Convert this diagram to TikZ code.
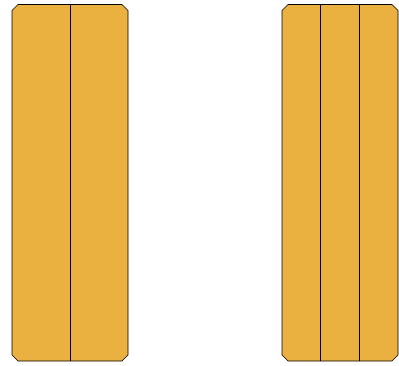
\documentclass[tikz,border=0pt]{standalone}
\definecolor{boxfill}{RGB}{234,176,64}
\begin{document}
\begin{tikzpicture}[x=1pt,y=-1pt,
  panel/.style={fill=boxfill,draw=black,line width=0.6pt,line join=miter},
  divider/.style={draw=black,line width=0.6pt}]
\useasboundingbox (0,0) rectangle (399,365);
% left panel
\draw[panel] (18,4.5) -- (122,4.5) -- (128,10.5) -- (128,355) -- (122,361) -- (18,361) -- (12,355) -- (12,10.5) -- cycle;
\coordinate (lt1) at (70,4.5); \coordinate (lb1) at (70,361);
\draw[divider] (lt1) -- (lb1);
% right panel
\draw[panel] (288,4.5) -- (392,4.5) -- (398,10.5) -- (398,355) -- (392,361) -- (288,361) -- (282,355) -- (282,10.5) -- cycle;
\coordinate (rt1) at (320,4.5); \coordinate (rb1) at (320,361);
\coordinate (rt2) at (359,4.5); \coordinate (rb2) at (359,361);
\draw[divider] (rt1) -- (rb1);
\draw[divider] (rt2) -- (rb2);
\end{tikzpicture}
\end{document}
